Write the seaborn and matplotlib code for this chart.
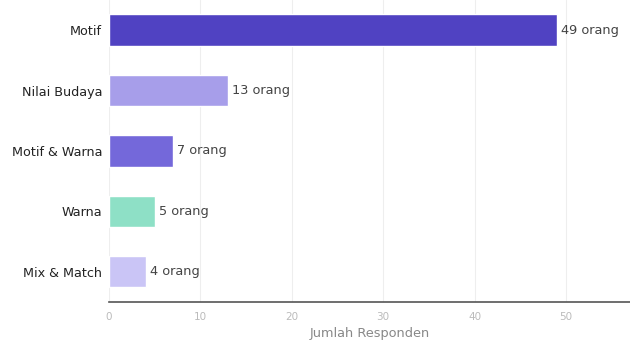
import matplotlib
matplotlib.use("Agg")
import matplotlib.pyplot as plt
import seaborn as sns
import pandas as pd

categories = ["Motif", "Nilai Budaya", "Motif & Warna", "Warna", "Mix & Match"]
values = [49, 13, 7, 5, 4]
colors = ["#5042C2", "#A79EEA", "#7468DA", "#8EE0C6", "#CAC5F6"]
xticks = [0, 10, 20, 30, 40, 50]

df = pd.DataFrame({"cat": categories, "val": values})

sns.set_theme(style="white")
plt.rcParams['font.family'] = ['DejaVu Sans']

fig = plt.figure(figsize=(6.3, 3.4), dpi=100)
ax = fig.add_axes([0.173, 0.112, 0.827, 0.888])

sns.barplot(data=df, y="cat", x="val", hue="cat", palette=colors, legend=False,
            orient="h", width=0.52, ax=ax, saturation=1)

for i, v in enumerate(values):
    ax.text(v + 0.45, i, f"{v} orang", va="center", ha="left", fontsize=9.3, color="#444444")

ax.set_xlim(0, 57)
ax.set_ylim(len(categories) - 0.5, -0.5)
ax.set_xticks(xticks)
ax.xaxis.grid(True, color="#eeeeee", linewidth=0.8)
ax.set_axisbelow(True)
for s in ["top", "right", "left"]:
    ax.spines[s].set_visible(False)
ax.spines["bottom"].set_color("#555555")
ax.spines["bottom"].set_linewidth(1.2)
ax.tick_params(axis="x", colors="#bbbbbb", labelsize=7.5, length=4, width=0.8, direction="inout", pad=5)
ax.tick_params(axis="y", length=0, labelsize=9.2, labelcolor="#222222", pad=5)
ax.set_ylabel("")
ax.set_xlabel("Jumlah Responden", fontsize=9.3, color="#888888", labelpad=4)

fig.savefig("out.png", dpi=100)
